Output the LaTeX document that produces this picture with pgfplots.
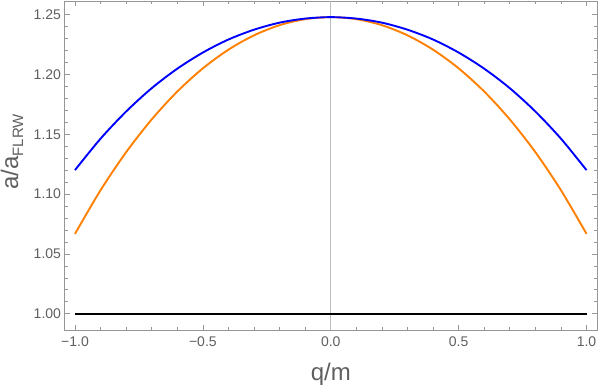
\documentclass[border=0pt]{standalone}
\usepackage{fontspec}
\setmainfont{Liberation Sans}
\usepackage{pgfplots}
\pgfplotsset{compat=1.18}
\definecolor{mblue}{RGB}{0,0,255}
\definecolor{morange}{RGB}{255,128,0}
\definecolor{framegray}{RGB}{150,150,150}
\definecolor{labelgray}{RGB}{95,95,95}
\definecolor{zerogray}{RGB}{190,190,190}

% scale factor a/a_FLRW
\pgfplotstableread{
q     blue    orange
-1.0  1.1201  1.0668
-0.9  1.1464  1.1033
-0.8  1.1691  1.1351
-0.7  1.1886  1.1625
-0.6  1.2049  1.1858
-0.5  1.2184  1.2052
-0.4  1.2293  1.2208
-0.3  1.2375  1.2328
-0.2  1.2434  1.2413
-0.1  1.2468  1.2463
 0.0  1.2480  1.2480
 0.1  1.2468  1.2463
 0.2  1.2434  1.2413
 0.3  1.2375  1.2328
 0.4  1.2293  1.2208
 0.5  1.2184  1.2052
 0.6  1.2049  1.1858
 0.7  1.1886  1.1625
 0.8  1.1691  1.1351
 0.9  1.1464  1.1033
 1.0  1.1201  1.0668
}\scaledata

\begin{document}
\begin{tikzpicture}
\path[use as bounding box] (-64.5pt,-57pt) rectangle (534.5pt,330pt);
\begin{axis}[
  at={(0,0)}, anchor=south west,
  scale only axis, width=532.5pt, height=329pt,
  xmin=-1.041, xmax=1.041, ymin=0.9864, ymax=1.2615,
  axis line style={framegray, line width=0.8pt},
  tick style={framegray, line width=0.7pt},
  major tick length=5pt, minor tick length=3pt,
  xtick={-1,-0.5,0,0.5,1},
  xticklabels={−1.0,−0.5,0.0,0.5,1.0},
  minor x tick num=4,
  ytick={1,1.05,1.1,1.15,1.2,1.25},
  yticklabels={1.00,1.05,1.10,1.15,1.20,1.25},
  minor y tick num=4,
  ticklabel style={font=\fontsize{14}{16}\selectfont, text=labelgray},
  xticklabel style={yshift=-3pt},
  xlabel={q/m},
  ylabel={a/a\raisebox{-5pt}{\fontsize{15}{17}\selectfont FLRW}},
  label style={font=\fontsize{24}{28}\selectfont, text=labelgray},
  xlabel style={at={(axis description cs:0.5,-0.152)}, anchor=base},
  ylabel style={at={(axis description cs:-0.0986,0.541)}, anchor=center, rotate=0},
]
\addplot[zerogray, line width=0.8pt] coordinates {(0,0.9864) (0,1.2615)};
\addplot[black, line width=2.4pt] coordinates {(-1,1) (1,1)};
\addplot[morange, line width=1.9pt, smooth] table[x=q, y=orange] {\scaledata};
\addplot[mblue, line width=1.9pt, smooth] table[x=q, y=blue] {\scaledata};
\end{axis}
\end{tikzpicture}
\end{document}
